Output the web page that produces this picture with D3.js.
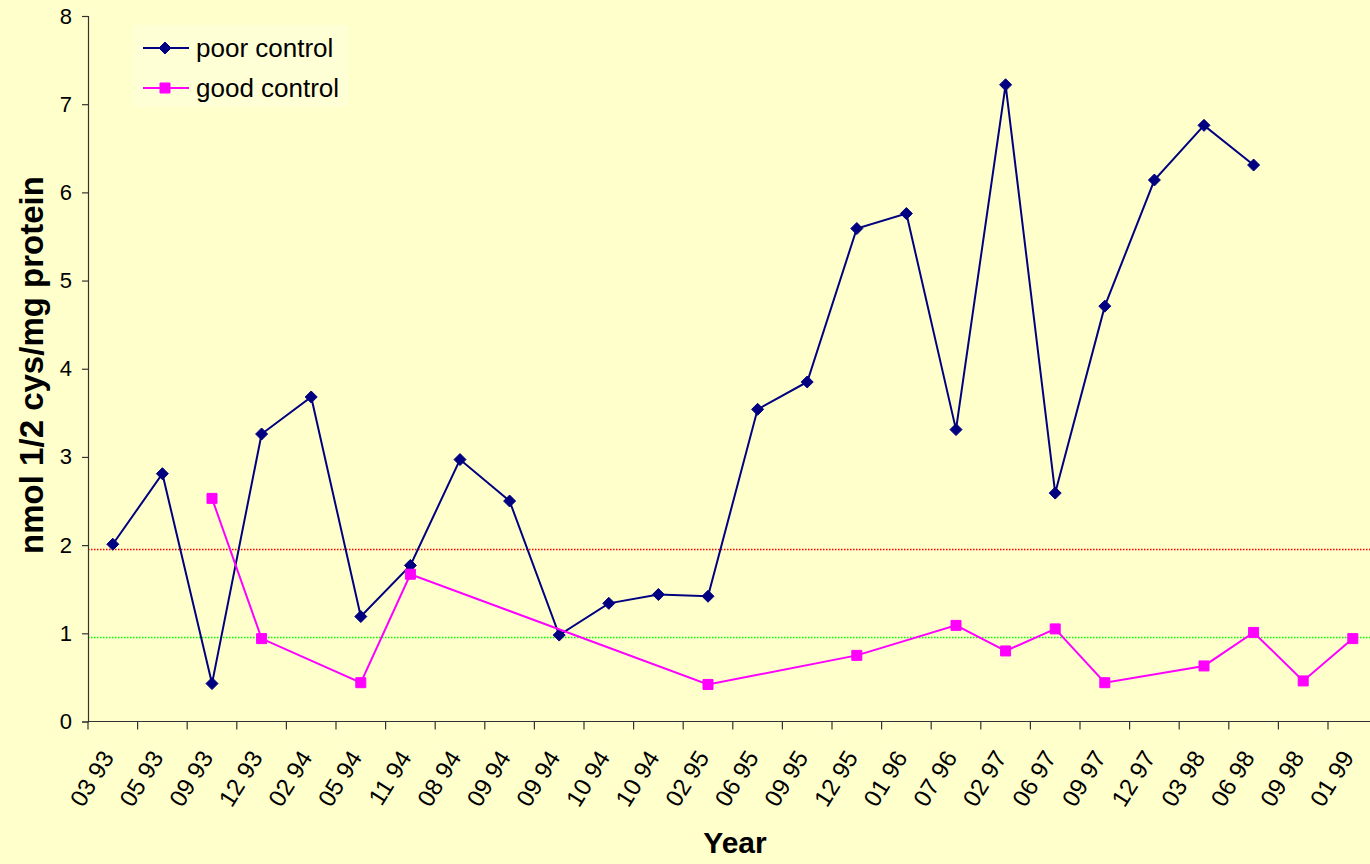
<!DOCTYPE html>
<html>
<head>
<meta charset="utf-8">
<script src="https://cdn.jsdelivr.net/npm/d3@7"></script>
<style>
  html, body { margin: 0; padding: 0; background: #FFFFCC; }
  svg { display: block; font-family: "Liberation Sans", Arial, sans-serif; }
</style>
</head>
<body>
<svg id="chart" width="1370" height="864"></svg>
<script>
const categories = ["03 93","05 93","09 93","12 93","02 94","05 94","11 94","08 94","09 94","09 94",
  "10 94","10 94","02 95","06 95","09 95","12 95","01 96","07 96","02 97","06 97",
  "09 97","12 97","03 98","06 98","09 98","01 99"];
const poorControl = [2.01,2.81,0.43,3.26,3.68,1.19,1.77,2.97,2.50,0.98,
  1.34,1.44,1.42,3.54,3.85,5.59,5.76,3.31,7.22,2.59,
  4.71,6.14,6.76,6.31,null,null];
const goodControl = [null,null,2.53,0.94,null,0.44,1.67,null,null,null,
  null,null,0.42,null,null,0.75,null,1.09,0.80,1.05,
  0.44,null,0.63,1.01,0.46,0.94];
const yTicks = [0,1,2,3,4,5,6,7,8];
const refLines = [
  { value: 1.96, color: "#FF0000" },
  { value: 0.96, color: "#00FF00" }
];
const seriesNames = ["poor control", "good control"];

(function () {
const svg = d3.select("#chart");
const W = 1370, H = 864;
svg.append("rect").attr("width", W).attr("height", H).attr("fill", "#FFFFCC");

const plotLeft = 88, plotBottom = 721.5, plotTop = 16;
const step = 49.6;
const idx = d3.range(categories.length);
const x = d3.scaleBand().domain(idx).range([plotLeft, plotLeft + step * categories.length]).paddingInner(0).paddingOuter(0);
const y = d3.scaleLinear().domain([0, 8]).range([plotBottom, plotTop]);
const cx = i => x(i) + x.bandwidth() / 2;

// reference dotted lines
svg.selectAll(".ref").data(refLines).enter().append("line")
  .attr("class", "ref")
  .attr("x1", plotLeft).attr("x2", W)
  .attr("y1", d => Math.round(y(d.value)) + 0.5).attr("y2", d => Math.round(y(d.value)) + 0.5)
  .style("stroke", d => d.color).style("stroke-width", "1.5px")
  .style("stroke-dasharray", "1.5,1.5");

// Y axis
const yAxis = d3.axisLeft(y).tickValues(yTicks).tickSize(6).tickPadding(10).tickFormat(d3.format("d"));
const gy = svg.append("g").attr("transform", `translate(${plotLeft},0)`).call(yAxis);
gy.select(".domain").attr("stroke", "#333").attr("stroke-width", 1.2);
gy.selectAll(".tick line").attr("stroke", "#333").attr("stroke-width", 1.2);
gy.selectAll("text").style("font-size", "22px").attr("fill", "#000").style("font-family", "'Liberation Sans', Arial, sans-serif");

// X axis
const xAxis = d3.axisBottom(x).tickSize(0).tickPadding(0).tickFormat(i => categories[i]);
const gx = svg.append("g").attr("transform", `translate(0,${plotBottom})`).call(xAxis);
gx.select(".domain").attr("stroke", "#333").attr("stroke-width", 1.2).attr("d", `M${plotLeft},0H${W}`);
gx.selectAll(".tick text")
  .style("font-size", "24px").attr("fill", "#000").style("font-family", "'Liberation Sans', Arial, sans-serif")
  .attr("text-anchor", "end").attr("y", 0).attr("dy", 0)
  .attr("transform", "translate(2,36) rotate(-58)");
// boundary ticks
gx.selectAll(".btick").data(idx).enter().append("line")
  .attr("class", "btick")
  .attr("x1", i => x(i)).attr("x2", i => x(i))
  .attr("y1", 0).attr("y2", 8).attr("stroke", "#333").attr("stroke-width", 1.2);

// lines
function drawSeries(values, color, shape) {
  const pts = idx.filter(i => values[i] != null).map(i => [cx(i), y(values[i])]);
  svg.append("path").datum(pts)
    .attr("d", d3.line())
    .attr("fill", "none").attr("stroke", color).attr("stroke-width", 2);
  svg.append("g").selectAll("path").data(pts).enter().append("path")
    .attr("transform", d => `translate(${d[0]},${d[1]})`)
    .attr("d", shape)
    .attr("fill", color).attr("stroke", color).attr("stroke-width", 1);
}
const diamond = "M0,-6L6,0L0,6L-6,0Z";
const square = "M-5,-5H5V5H-5Z";
drawSeries(poorControl, "#000080", diamond);
drawSeries(goodControl, "#FF00FF", square);

// axis titles
svg.append("text")
  .attr("transform", `translate(43,365) rotate(-90)`)
  .attr("text-anchor", "middle")
  .attr("font-size", 33).attr("font-weight", "bold").attr("fill", "#000")
  .text("nmol 1/2 cys/mg protein");
svg.append("text")
  .attr("x", 735).attr("y", 853)
  .attr("text-anchor", "middle")
  .attr("font-size", 30).attr("font-weight", "bold").attr("fill", "#000")
  .text("Year");

// legend
const lg = svg.append("g");
lg.append("rect").attr("x", 133).attr("y", 25).attr("width", 215).attr("height", 82).attr("fill", "#FFFFD6");
const legendItems = [
  { name: seriesNames[0], color: "#000080", shape: diamond, y: 48 },
  { name: seriesNames[1], color: "#FF00FF", shape: square, y: 88 }
];
legendItems.forEach(it => {
  lg.append("line").attr("x1", 143).attr("x2", 189).attr("y1", it.y).attr("y2", it.y)
    .attr("stroke", it.color).attr("stroke-width", 2);
  lg.append("path").attr("transform", `translate(165,${it.y})`).attr("d", it.shape)
    .attr("fill", it.color).attr("stroke", it.color);
  lg.append("text").attr("x", 196).attr("y", it.y).attr("dy", "0.35em")
    .attr("font-size", 26).attr("fill", "#000").text(it.name);
});
})();
</script>
</body>
</html>
